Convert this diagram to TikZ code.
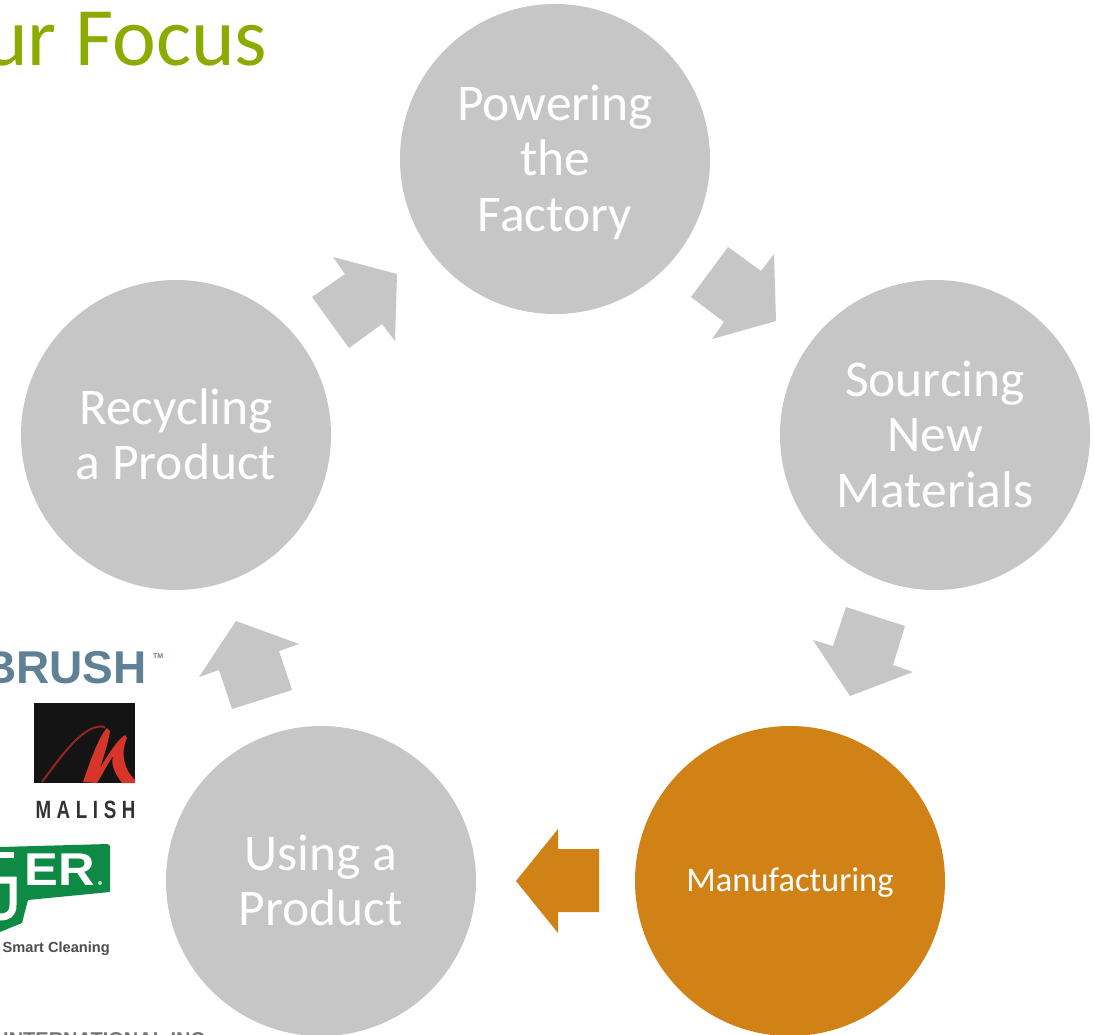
\documentclass[tikz,border=0pt]{standalone}
\usepackage{fontspec}
\setmainfont{Carlito}
\newfontfamily\logofont{Liberation Sans}
\newfontfamily\spacedfont[LetterSpace=30]{Liberation Sans}
\definecolor{circgray}{HTML}{C6C6C6}
\definecolor{mfgorange}{HTML}{D08216}
\definecolor{titlegreen}{HTML}{8CAB00}
\definecolor{brushblue}{HTML}{5F8196}
\definecolor{logogreen}{HTML}{0F8A45}
\definecolor{malishred}{HTML}{D8352A}
\newcommand{\stagetext}[2][-12pt]{\raisebox{#1}[0pt][0pt]{\begin{tabular}{@{}c@{}}#2\end{tabular}}}
\tikzset{
  x=1pt,y=-1pt,
  stage/.style={circle,minimum size=310pt,inner sep=0pt,fill=circgray,text=white,align=center,font=\fontsize{51.5}{55.5}\selectfont},
  blockarrow/.style={fill=circgray,draw=none},
  logotext/.style={inner sep=0pt,font=\logofont\bfseries\fontsize{#1}{#1}\selectfont},
}
\begin{document}
\begin{tikzpicture}
\useasboundingbox (0,0) rectangle (1094,1035);
\clip (0,0) rectangle (1094,1035);
\fill[white] (0,0) rectangle (1094,1035);
\node[anchor=base west,text=titlegreen,font=\fontsize{83}{83}\selectfont,inner sep=0pt] (title) at (-16,66) {ur Focus};
\node[stage] (power) at (555,159) {\stagetext{Powering\\the\\Factory}};
\node[stage] (source) at (935,435) {\stagetext{Sourcing\\New\\Materials}};
\node[stage,fill=mfgorange,font=\fontsize{34.5}{36}\selectfont] (mfg) at (790,881) {\stagetext[-10pt]{Manufacturing}};
\node[stage] (use) at (321,881) {\stagetext{Using a\\Product}};
\node[stage] (recycle) at (176,435) {\stagetext{Recycling\\a Product}};
\fill[blockarrow] (333,257)--(397,274)--(395,341)--(382,324)--(349,348)--(312,297)--(345,274)--cycle;
\fill[blockarrow] (728,247)--(761,271)--(774,254)--(776,321)--(712,339)--(724,322)--(691,297)--cycle;
\fill[blockarrow] (846,607)--(905,626)--(893,665)--(913,672)--(850,696)--(813,640)--(833,646)--cycle;
\fill[blockarrow,fill=mfgorange] (558,829)--(558,849)--(599,849)--(599,912)--(558,912)--(558,933)--(516,881)--cycle;
\fill[blockarrow] (236,621)--(299,644)--(279,651)--(292,690)--(232,709)--(219,670)--(199,677)--cycle;
% logos
\node[anchor=base east,logotext=46,text=brushblue] (brush) at (147,683) {BRUSH};
\node[anchor=base west,logotext=7,text=brushblue] (tm) at (153,658) {TM};
\fill[black!92] (34,703) rectangle (135,783);
\draw[malishred!70!black,line width=2pt] (42,782) .. controls (62,755) and (85,722) .. (105,727);
\fill[malishred] (83,782) .. controls (90,762) and (98,738) .. (107,728) -- (110,731) .. controls (108,745) and (103,758) .. (100,768) .. controls (108,755) and (117,740) .. (125,735) -- (127,738) .. controls (120,752) and (124,770) .. (135,780) -- (135,783) -- (122,783) .. controls (114,772) and (111,765) .. (113,756) .. controls (107,765) and (102,775) .. (97,783) -- cycle;
\node[anchor=base,inner sep=0pt,text=black!80] (malish) at (85.5,818) {\scalebox{0.75}[1]{\spacedfont\bfseries\fontsize{25}{25}\selectfont MALISH}};
\fill[logogreen] (0,847)--(108,844)--(110,846)--(110,892)--(28,900)--(22,923)--(0,932)--cycle;
\draw[white,line width=6pt] (0,855) -- (14,855);
\draw[white,line width=7pt] (0,880) -- (13,880) -- (13,905) .. controls (13,914) and (8,917) .. (0,917);
\node[anchor=base east,inner sep=0pt,text=white] (ger) at (95,885) {\scalebox{1.1}[1]{\logofont\bfseries\fontsize{46}{46}\selectfont ER}};
\fill[white!70!logogreen] (100,883) circle (2);
\node[anchor=base east,logotext=14.6,text=black!70] (smart) at (110,952) {Smart Cleaning};
\node[anchor=base west,logotext=20,text=black!55] (intl) at (3,1046) {INTERNATIONAL INC};
\end{tikzpicture}
\end{document}
